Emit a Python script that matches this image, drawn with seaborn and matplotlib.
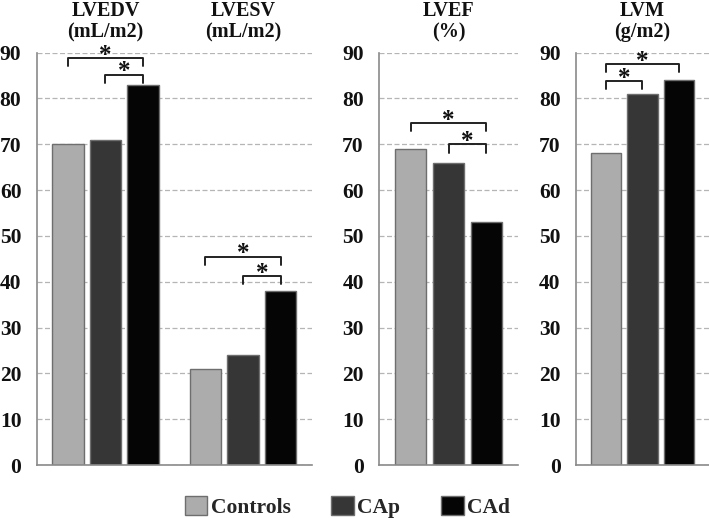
import pandas as pd
import matplotlib
matplotlib.use("Agg")
import matplotlib.pyplot as plt
from matplotlib.patches import Patch
from matplotlib.transforms import blended_transform_factory
import seaborn as sns

# ---- data ----
groups = ["Controls", "CAp", "CAd"]
metrics = ["LVEDV", "LVESV", "LVEF", "LVM"]
titles = ["LVEDV\n(mL/m2)", "LVESV\n(mL/m2)", "LVEF\n(%)", "LVM\n(g/m2)"]
controls = [70, 21, 69, 68]
cap = [71, 24, 66, 81]
cad = [83, 38, 53, 84]

# significance brackets: (metric, from group, to group, bracket top)
sig_metric = ["LVEDV", "LVEDV", "LVESV", "LVESV", "LVEF", "LVEF", "LVM", "LVM"]
sig_from = ["Controls", "CAp", "Controls", "CAp", "Controls", "CAp", "Controls", "Controls"]
sig_to = ["CAd", "CAd", "CAd", "CAd", "CAd", "CAd", "CAd", "CAp"]
sig_top = [88.8, 85.2, 45.5, 41.3, 74.7, 70.0, 87.5, 83.8]

colors = ["#acacac", "#363636", "#050505"]
edge = "#6e6e6e"
font = "Liberation Serif"

df = pd.DataFrame({
    "metric": metrics * 3,
    "group": [g for g in groups for _ in metrics],
    "value": controls + cap + cad,
})

sns.set_theme(style="white")
plt.rcParams["font.family"] = [font, "DejaVu Serif"]
plt.rcParams["font.weight"] = "bold"

fig = plt.figure(figsize=(7.09, 5.18), dpi=100)
bottom, height = 0.1023, 0.796
panels = [
    (["LVEDV", "LVESV"], [0.0518, bottom, 0.388, height]),
    (["LVEF"], [0.5346, bottom, 0.196, height]),
    (["LVM"], [0.8124, bottom, 0.1876, height]),
]

width = 0.82
step = width / 3

for mets, rect in panels:
    ax = fig.add_axes(rect)
    sub = df[df["metric"].isin(mets)]
    sns.barplot(data=sub, x="metric", y="value", hue="group", order=mets,
                hue_order=groups, palette=colors, width=width, gap=0.17,
                edgecolor=edge, linewidth=1.0, legend=False, ax=ax)
    ax.set_ylim(0, 90)
    ax.set_xlim(-0.5, len(mets) - 0.5)
    ax.set_yticks(range(0, 91, 10))
    ax.set_xticks([])
    ax.set_xlabel("")
    ax.set_ylabel("")
    ax.yaxis.grid(True, linestyle=(0, (4, 2)), color="#b5b5b5", linewidth=0.9)
    ax.set_axisbelow(True)
    for s in ["top", "right"]:
        ax.spines[s].set_visible(False)
    for s in ["left", "bottom"]:
        ax.spines[s].set_color("#8a8a8a")
        ax.spines[s].set_linewidth(1.2)
    ax.tick_params(axis="y", length=0, pad=11, labelsize=15.5, labelcolor="#111111")
    for lab in ax.get_yticklabels():
        lab.set_fontweight("bold")
        lab.set_fontfamily(font)

    tr = blended_transform_factory(ax.transData, ax.transAxes)
    for i, m in enumerate(mets):
        ax.text(i, 1.075, titles[metrics.index(m)], transform=tr, ha="center",
                va="center", fontsize=14.5, fontweight="bold", linespacing=1.05,
                color="#111111")

    # brackets
    for m, g1, g2, top in zip(sig_metric, sig_from, sig_to, sig_top):
        if m not in mets:
            continue
        i = mets.index(m)
        x1 = i + (groups.index(g1) - 1) * step
        x2 = i + (groups.index(g2) - 1) * step
        drop = 1.8
        ax.plot([x1, x1, x2, x2], [top - drop, top, top, top - drop],
                color="#222222", linewidth=1.4, clip_on=False)
        ax.text((x1 + x2) / 2, top + 0.6, "*", ha="center", va="center",
                fontsize=18, fontweight="bold", clip_on=False, color="#111111")

handles = [Patch(facecolor=c, edgecolor=edge, linewidth=1.0) for c in colors]
fig.legend(handles, groups, loc="center", bbox_to_anchor=(0.49, 0.022),
           ncol=3, frameon=False, prop={"family": font, "weight": "bold", "size": 15.5},
           handlelength=1.05, handleheight=1.0, handletextpad=0.15, columnspacing=1.9)

fig.savefig("out.png", dpi=100)
